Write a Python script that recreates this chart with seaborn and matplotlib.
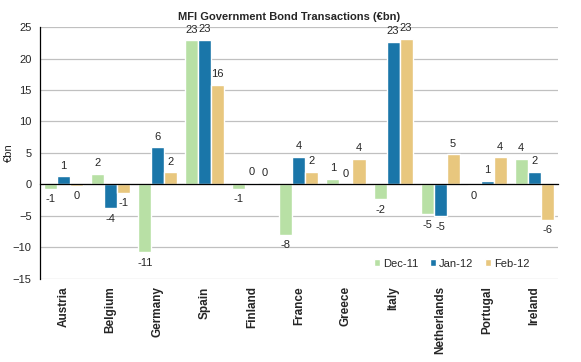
import matplotlib
matplotlib.use("Agg")
import matplotlib.pyplot as plt
import numpy as np
import pandas as pd
import seaborn as sns

countries = ["Austria", "Belgium", "Germany", "Spain", "Finland", "France",
             "Greece", "Italy", "Netherlands", "Portugal", "Ireland"]
periods = ["Dec-11", "Jan-12", "Feb-12"]
dec_11 = [-0.7, 1.7, -10.8, 22.9, -0.7, -8.0, 0.9, -2.3, -4.7, -0.1, 4.1]
jan_12 = [1.3, -3.8, 5.9, 23.0, 0.2, 4.4, 0.0, 22.7, -5.0, 0.6, 2.0]
feb_12 = [-0.2, -1.3, 1.9, 15.8, 0.1, 2.0, 4.1, 23.1, 4.8, 4.3, -5.6]

df = pd.DataFrame({"country": countries * 3,
                   "period": np.repeat(periods, len(countries)),
                   "value": dec_11 + jan_12 + feb_12})

palette = {"Dec-11": "#b8e0a5", "Jan-12": "#1a76a9", "Feb-12": "#e8c77e"}

sns.set_style("white")
plt.rcParams["font.family"] = ["Liberation Sans", "DejaVu Sans"]

fig, ax = plt.subplots(figsize=(5.81, 3.62), dpi=100)
fig.subplots_adjust(left=0.069, right=0.96, top=0.925, bottom=0.23)

sns.barplot(data=df, x="country", y="value", hue="period", palette=palette,
            width=0.83, gap=0, saturation=1, ax=ax, legend=True)

# data labels, Excel "outside end" style
for container in ax.containers:
    for bar in container:
        v = bar.get_height()
        x = bar.get_x() + bar.get_width() / 2
        txt = f"{round(v):.0f}" if round(v) != 0 else "0"
        if v >= 0:
            ax.text(x, v + 0.9, txt, ha="center", va="bottom", fontsize=8)
        else:
            ax.text(x, v - 0.9, txt, ha="center", va="top", fontsize=8)

ax.set_ylim(-15, 25)
ax.set_yticks(range(-15, 30, 5))
ax.set_xlim(-0.5, len(countries) - 0.5)
ax.yaxis.grid(True, color="#c0c0c0", lw=0.9)
ax.set_axisbelow(True)
for s in ["top", "right"]:
    ax.spines[s].set_visible(False)
ax.spines["bottom"].set_position(("data", 0))
ax.spines["bottom"].set_color("black")
ax.spines["left"].set_color("black")
ax.spines["bottom"].set_linewidth(0.9)
ax.spines["left"].set_linewidth(0.9)

ax.set_xticks(np.arange(-0.5, len(countries), 1), minor=True)
ax.tick_params(axis="x", which="major", length=0, pad=0)
ax.tick_params(axis="x", which="minor", length=4, direction="out", color="black")
ax.tick_params(axis="y", length=4, direction="out", color="black", labelsize=8, pad=2)
ax.set_xticks(range(len(countries)))
ax.set_xticklabels([])
for i, c in enumerate(countries):
    ax.text(i, -15 - 1.2, c, rotation=90, ha="center", va="top",
            fontsize=8.5, fontweight="bold")

ax.set_xlabel("")
ax.set_ylabel("€bn", fontsize=8)
ax.yaxis.set_label_coords(-0.05, 0.5)
ax.set_title("MFI Government Bond Transactions (€bn)", fontsize=8,
             fontweight="bold", pad=5, x=0.48)

ax.legend(title=None, loc="lower right", bbox_to_anchor=(0.965, 0.0),
          ncol=3, frameon=False, fontsize=8, handlelength=0.55,
          handleheight=0.55, handletextpad=0.3, columnspacing=1.0)

fig.savefig("out.png", dpi=100)
